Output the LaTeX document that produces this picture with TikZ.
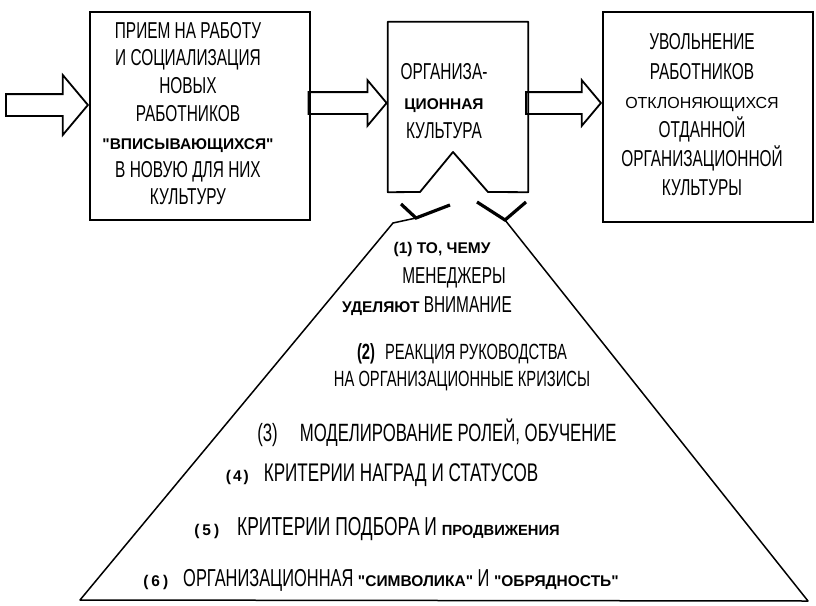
\documentclass[tikz,border=0pt]{standalone}
\usepackage{fontspec}
\setmainfont{Liberation Sans}[FakeStretch=0.67]
\newfontfamily\widefont{Liberation Sans}
\usetikzlibrary{positioning,shapes.arrows}

\newcommand{\boldwide}{\widefont\bfseries\fontsize{15.5}{18}\selectfont}
\newcommand{\plainwide}{\widefont\fontsize{16}{18}\selectfont}

\tikzset{
  box/.style={draw, line width=1.8pt, inner sep=0pt},
  hollow/.style={single arrow, draw, line width=1.8pt, inner sep=0pt, inner ysep=10pt,
    single arrow head extend=12pt, single arrow tip angle=100, anchor=tip},
  rim/.style={line width=1.8pt, line join=round},
  slope/.style={line width=1.5pt, line join=round},
  prong/.style={line width=3.2pt},
  lbl/.style={align=center, inner sep=0pt},
  row/.style={inner sep=0pt, anchor=base},
}

\begin{document}
\begin{tikzpicture}[x=1pt, y=-1pt]
    \useasboundingbox (0,0) rectangle (816,605);

    % блоки
    \node[box, minimum width=220pt, minimum height=208pt] (hire) at (200,116) {};
    \node[inner sep=0pt, minimum width=140pt, minimum height=170pt] (culture) at (458,107) {};
    \node[box, minimum width=210pt, minimum height=210pt] (fire) at (708,117) {};
    \draw[rim] (culture.south west) -- (culture.north west) -- (culture.north east)
        -- (culture.south east) -- (488,192) -- (453,152) -- (420,192) -- cycle;

    % стрелки
    \node[hollow, single arrow head extend=19pt, minimum height=82pt] (entry) at ([yshift=11pt]hire.west) {};
    \node[hollow, minimum height=78pt] (adopt) at ([yshift=4pt]culture.west) {};
    \node[hollow, minimum height=75pt] (dismiss) at ([yshift=14pt]fire.west) {};

    % пирамида
    \coordinate (bl) at (80,600);
    \coordinate (br) at (808,601);
    \draw[slope] (416,218) -- (393,223) -- (bl) -- (br) -- (505,220);
    \draw[prong] (401,204) -- (416,218) -- (450,205);
    \draw[prong] (477,202) -- (505,220) -- (526,202);

    % тексты в блоках
    \node[lbl, font={\fontsize{23}{27.8}\selectfont}] (hiretext) at (188,113.6)
        {ПРИЕМ НА РАБОТУ\\И СОЦИАЛИЗАЦИЯ\\НОВЫХ\\РАБОТНИКОВ\\{\boldwide "ВПИСЫВАЮЩИХСЯ"}\\В НОВУЮ ДЛЯ НИХ\\КУЛЬТУРУ};
    \node[lbl, font={\fontsize{23}{29.5}\selectfont}] (culturetext) at (444,101.5)
        {ОРГАНИЗА-\\{\boldwide ЦИОННАЯ}\\КУЛЬТУРА};
    \node[lbl, font={\fontsize{23}{29.2}\selectfont}] (firetext) at (702,115)
        {УВОЛЬНЕНИЕ\\РАБОТНИКОВ\\{\plainwide ОТКЛОНЯЮЩИХСЯ}\\ОТДАННОЙ\hspace*{58pt}\\ОРГАНИЗАЦИОННОЙ\\КУЛЬТУРЫ};

    % уровни пирамиды
    \node[lbl, font={\fontsize{23}{29.9}\selectfont}] (item1) at (442,279)
        {{\boldwide (1) ТО, ЧЕМУ}\\\hspace*{24pt}МЕНЕДЖЕРЫ\\{\boldwide УДЕЛЯЮТ} ВНИМАНИЕ\hspace*{30pt}};
    \node[lbl, font={\fontsize{22}{27}\selectfont}] (item2) at (462,367.5)
        {\textbf{(2)}\hspace{10pt}РЕАКЦИЯ РУКОВОДСТВА\\НА ОРГАНИЗАЦИОННЫЕ КРИЗИСЫ};
    \node[row, font={\fontsize{25}{27}\selectfont}] (item3) at (437,441)
        {(3)\hspace{22pt}МОДЕЛИРОВАНИЕ РОЛЕЙ, ОБУЧЕНИЕ};
    \node[row, font={\fontsize{25.5}{27}\selectfont}] (item4) at (382,481)
        {{\boldwide(\hspace{2pt}4\hspace{2pt})}\hspace{15pt}КРИТЕРИИ НАГРАД И СТАТУСОВ};
    \node[row, font={\fontsize{26}{27}\selectfont}] (item5) at (377,535.3)
        {{\boldwide(\hspace{3pt}5\hspace{3pt})}\hspace{18pt}КРИТЕРИИ ПОДБОРА И {\boldwide\fontsize{14.7}{18}\selectfont ПРОДВИЖЕНИЯ}};
    \node[row, font={\fontsize{24.5}{27}\selectfont}] (item6) at (381,586)
        {{\boldwide(\hspace{3pt}6\hspace{3pt})}\hspace{15pt}ОРГАНИЗАЦИОННАЯ {\boldwide "СИМВОЛИКА"} И {\boldwide "ОБРЯДНОСТЬ"}};
\end{tikzpicture}
\end{document}
